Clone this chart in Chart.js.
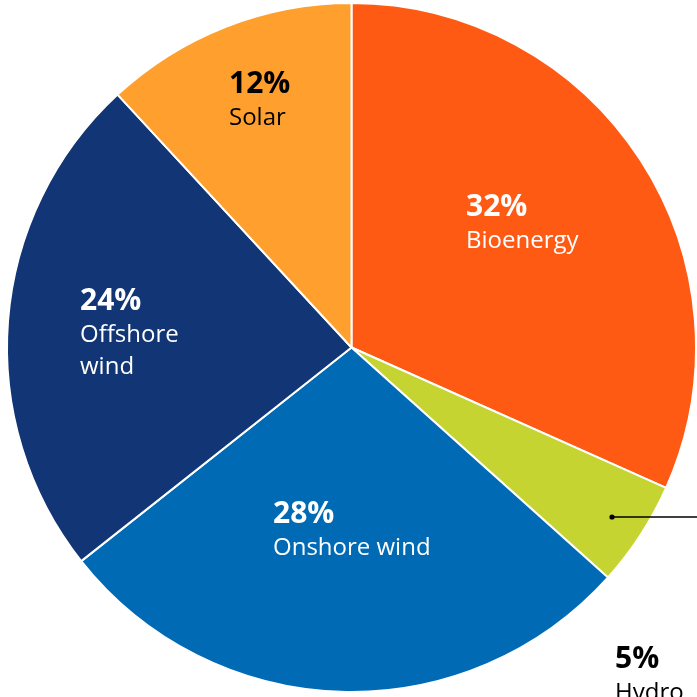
<!DOCTYPE html>
<html>
<head>
<meta charset="utf-8">
<script src="https://cdn.jsdelivr.net/npm/chart.js@4/dist/chart.umd.min.js"></script>
<style>
  html, body { margin: 0; padding: 0; background: #fff; overflow: hidden; }
  #wrap { width: 697px; height: 697px; }
</style>
</head>
<body>
<div id="wrap"><canvas id="pie"></canvas></div>
<script>
const categories = ['Bioenergy', 'Hydro', 'Onshore wind', 'Offshore wind', 'Solar'];
const shares = [32, 5, 28, 24, 12];
const colours = ['#ff5a14', '#c5d431', '#006ab4', '#123575', '#ffa02e'];

// label lines and placement (offset from pie centre, px) per slice
const labelLines = [['Bioenergy'], ['Hydro'], ['Onshore wind'], ['Offshore', 'wind'], ['Solar']];
const labelSpots = [
  { dx: 114, dy: -132, colour: '#fff' },
  { dx: 263, dy: 320, colour: '#000' },
  { dx: -79, dy: 175, colour: '#fff' },
  { dx: -272, dy: -38, colour: '#fff' },
  { dx: -123, dy: -255, colour: '#000' }
];

const sliceLabels = {
  id: 'sliceLabels',
  afterDraw(chart) {
    const ctx = chart.ctx;
    const arcs = chart.getDatasetMeta(0).data;
    const cx = Math.round(arcs[0].x), cy = Math.round(arcs[0].y);
    ctx.save();
    ctx.textAlign = 'left';
    ctx.textBaseline = 'alphabetic';

    // leader line for the small hydro slice
    ctx.strokeStyle = '#000';
    ctx.fillStyle = '#000';
    ctx.lineWidth = 1.3;
    ctx.beginPath();
    ctx.moveTo(cx + 260, cy + 169);
    ctx.lineTo(chart.width, cy + 169);
    ctx.stroke();
    ctx.beginPath();
    ctx.arc(cx + 260, cy + 169, 2.6, 0, Math.PI * 2);
    ctx.fill();

    labelSpots.forEach((spot, i) => {
      const x = cx + spot.dx;
      let y = cy + spot.dy;
      ctx.fillStyle = spot.colour;
      ctx.font = 'bold 30px "Open Sans", sans-serif';
      ctx.fillText(shares[i] + '%', x, y);
      ctx.font = '24px "Open Sans", sans-serif';
      labelLines[i].forEach((line) => {
        y += 32;
        ctx.fillText(line, x, y);
      });
    });
    ctx.restore();
  }
};

new Chart(document.getElementById('pie'), {
  type: 'pie',
  data: {
    labels: categories,
    datasets: [{
      data: shares,
      backgroundColor: colours,
      borderColor: '#fff',
      borderWidth: 2
    }]
  },
  options: {
    responsive: true,
    maintainAspectRatio: false,
    animation: false,
    layout: { padding: { left: 6, right: 0, top: 2, bottom: 4 } },
    plugins: {
      legend: { display: false },
      tooltip: { enabled: false }
    }
  },
  plugins: [sliceLabels]
});
</script>
</body>
</html>
